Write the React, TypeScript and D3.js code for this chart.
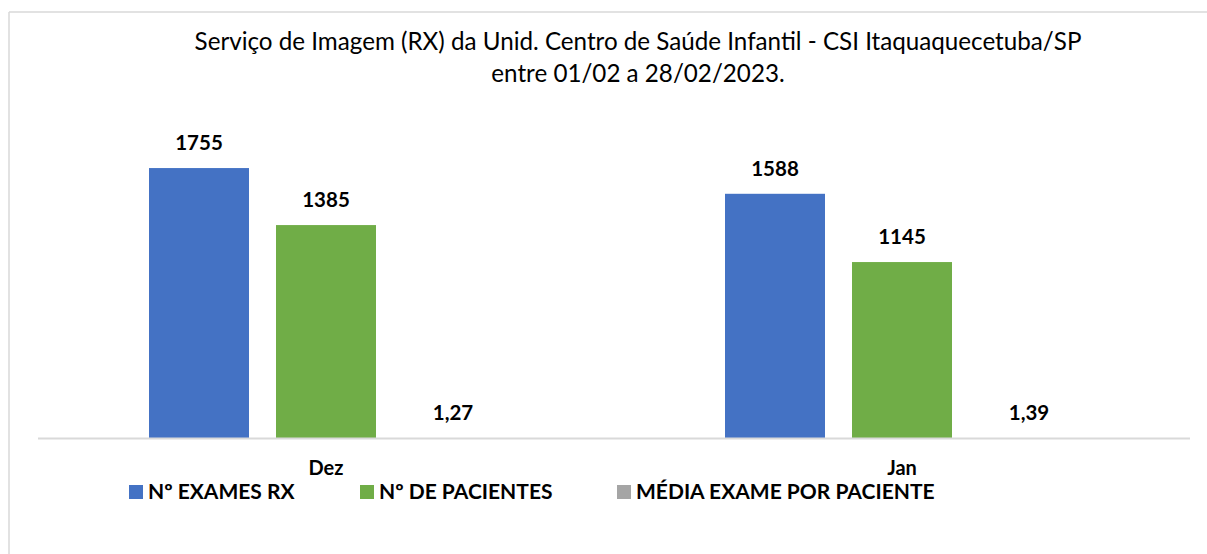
import React from "react";
import * as d3 from "d3";

const categories = ["Dez", "Jan"];
const seriesNames = ["Nº EXAMES RX", "Nº DE PACIENTES", "MÉDIA EXAME POR PACIENTE"];
const examesRx = [1755, 1588];
const pacientes = [1385, 1145];
const mediaExame = [1.27, 1.39];
const seriesColors = ["#4472C4", "#70AD47", "#A5A5A5"];
const titleLines = [
  "Serviço de Imagem (RX) da Unid. Centro de Saúde Infantil - CSI Itaquaquecetuba/SP",
  "entre 01/02 a 28/02/2023.",
];

const W = 1207;
const H = 554;
const FONT = "Lato, 'Open Sans', sans-serif";

export default function App() {
  const seriesValues = [examesRx, pacientes, mediaExame];
  const plotLeft = 38;
  const plotRight = 1190;
  const baseY = 438.5;
  const x0 = d3.scaleBand<string>().domain(categories).range([plotLeft, plotRight]).padding(0);
  const groupW = 354;
  const off = (x0.bandwidth() - groupW) / 2;
  const x1 = d3
    .scaleBand<string>()
    .domain(seriesNames)
    .range([off, off + groupW])
    .paddingInner(27 / 127)
    .paddingOuter(0);
  const y = d3.scaleLinear().domain([0, 2000]).range([baseY, baseY - 0.1541 * 2000]);
  const fmt = (v: number) => (Number.isInteger(v) ? String(v) : v.toFixed(2).replace(".", ","));

  const legendX = [129, 360, 617];

  return (
    <svg
      width={W}
      height={H}
      style={{ position: "absolute", left: 0, top: 0, background: "#fff" }}
      fontFamily={FONT}
    >
      <rect x={0} y={0} width={W} height={H} fill="#fff" />
      <line x1={9} y1={12} x2={9} y2={H} stroke="#d9d9d9" strokeWidth={1.5} />
      <line x1={9} y1={12} x2={W} y2={12} stroke="#d9d9d9" strokeWidth={1.5} />

      {titleLines.map((t, i) => (
        <text key={i} x={638} y={50 + i * 32.3} textAnchor="middle" fontSize={24.2} fill="#000">
          {t}
        </text>
      ))}

      {categories.map((c, ci) => (
        <g key={c} transform={`translate(${x0(c)},0)`}>
          {seriesNames.map((s, si) => {
            const v = seriesValues[si][ci];
            const bx = x1(s)!;
            const by = y(v);
            return (
              <g key={s}>
                <rect
                  x={bx}
                  y={by}
                  width={x1.bandwidth()}
                  height={baseY - by}
                  fill={seriesColors[si]}
                />
                <text
                  x={bx + x1.bandwidth() / 2}
                  y={by - 18}
                  textAnchor="middle"
                  fontSize={20.5}
                  fontWeight="bold"
                  fill="#000"
                >
                  {fmt(v)}
                </text>
              </g>
            );
          })}
          <text
            x={x0.bandwidth() / 2}
            y={475}
            textAnchor="middle"
            fontSize={20}
            fontWeight="bold"
            fill="#000"
          >
            {c}
          </text>
        </g>
      ))}

      <line x1={plotLeft} y1={baseY} x2={plotRight} y2={baseY} stroke="#d9d9d9" strokeWidth={2} />

      {seriesNames.map((s, si) => (
        <g key={s}>
          <rect x={legendX[si]} y={485} width={14} height={14} fill={seriesColors[si]} />
          <text x={legendX[si] + 19} y={499} fontSize={21} fontWeight="bold" fill="#000">
            {s}
          </text>
        </g>
      ))}
    </svg>
  );
}
